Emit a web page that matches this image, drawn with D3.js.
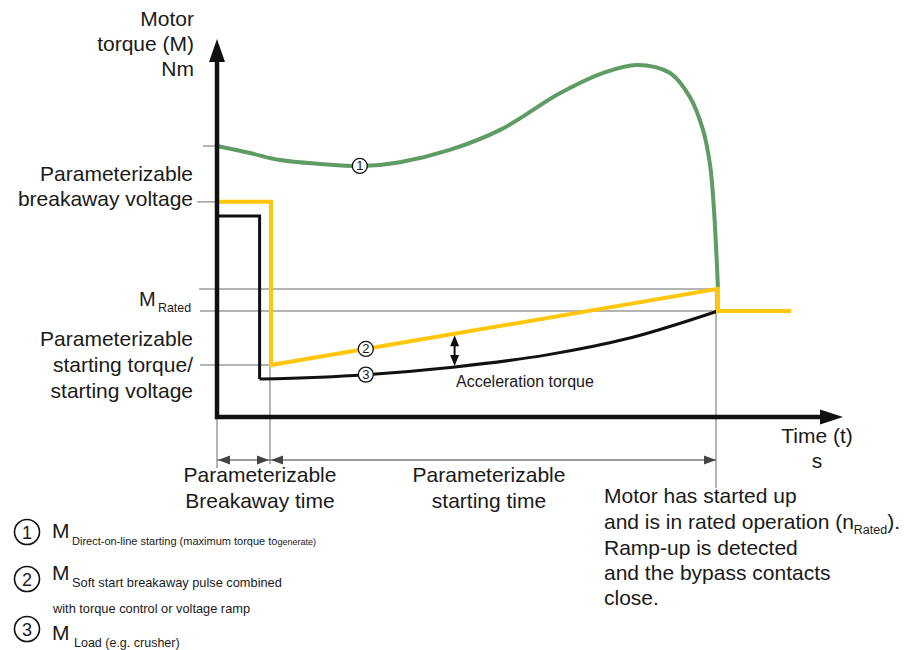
<!DOCTYPE html>
<html>
<head>
<meta charset="utf-8">
<script src="https://cdn.jsdelivr.net/npm/d3@7"></script>
<style>
  body { margin: 0; background: #fff; }
  svg { display: block; }
  text { font-family: "Liberation Sans", Arial, sans-serif; fill: #1a1a1a; }
</style>
</head>
<body>
<svg id="chart" width="909" height="650"></svg>
<script>
// ---- Time points (relative units) ----
const tLoadBreakaway = 7.1;   // load torque drops
const tBreakaway = 9;         // end of breakaway pulse
const tRampEnd = 83.5;        // motor reaches rated speed
const tRunEnd = 95.7;         // end of drawn rated operation

// ---- Torque levels (relative units) ----
const levelDolStart = 77.2;
const levelBreakaway = 61.3;
const levelRatedUpper = 36.5;
const levelRated = 30.2;
const levelStarting = 14.8;

// Curve 1: direct-on-line torque
const dolTime   = [0, 5.5, 10.5, 17.2, 24.2, 30.5, 38.8, 47.2, 57.2, 64.3, 70, 75.5, 78.8, 81, 82.2, 82.8, 83.2, 83.5];
const dolTorque = [77.2, 75.2, 73.2, 72.1, 71.5, 72.6, 76.1, 81.8, 92.3, 98.0, 100.3, 98.0, 91.2, 81.8, 71.5, 59.8, 47.6, 36.5];

// Curve 2: soft start (breakaway pulse, then torque ramp, then bypass)
const softTime   = [0, 9, 9, 83.5, 83.5, 95.7];
const softTorque = [61.3, 61.3, 14.8, 36.5, 30.2, 30.2];

// Curve 3: load torque (breakaway part, then rising load curve)
const loadPulseTime   = [0, 7.1, 7.1];
const loadPulseTorque = [57.3, 57.3, 10.8];
const loadTime   = [7.1, 24.3, 39.3, 55, 68.8, 83.5];
const loadTorque = [10.8, 12.0, 14.2, 17.7, 22.5, 30.2];

// Numbered markers on the curves
const markerLabels = ["1", "2", "3"];
const markerTimes  = [23.8, 24.8, 24.8];
const tAcceleration = 39.6;

const svg = d3.select("#chart");
const x = d3.scaleLinear().domain([0, 100]).range([217, 817]);
const y = d3.scaleLinear().domain([0, 100]).range([417, 66]);

const GREEN = "#5e9c63", YELLOW = "#ffc60b", GREY = "#9d9d9d", INK = "#111";

function valueAt(times, vals, t) {
  for (let i = times.length - 1; i > 0; i--) {
    if (t >= times[i - 1] && t <= times[i] && times[i] > times[i - 1]) {
      const f = (t - times[i - 1]) / (times[i] - times[i - 1]);
      return vals[i - 1] + f * (vals[i] - vals[i - 1]);
    }
  }
  return vals[0];
}
function arrowHead(g, tx, ty, angleDeg, len, half, color) {
  const a = angleDeg * Math.PI / 180;
  const bx = tx - Math.cos(a) * len, by = ty - Math.sin(a) * len;
  const nx = -Math.sin(a) * half, ny = Math.cos(a) * half;
  g.append("path")
    .attr("d", `M${tx},${ty}L${bx + nx},${by + ny}L${bx - nx},${by - ny}Z`)
    .attr("fill", color);
}
const zip = (a, b) => a.map((v, i) => [v, b[i]]);
const lineLin = d3.line().x(d => x(d[0])).y(d => y(d[1]));
const lineSmooth = d3.line().x(d => x(d[0])).y(d => y(d[1])).curve(d3.curveCatmullRom.alpha(0.5));
const lineLoad = d3.line().x(d => x(d[0])).y(d => y(d[1])).curve(d3.curveMonotoneX);

// ---- Grey reference lines ----
const ref = svg.append("g").attr("stroke", GREY).attr("stroke-width", 1.5).attr("fill", "none");
ref.append("line").attr("x1", 203).attr("x2", x(0)).attr("y1", y(levelDolStart)).attr("y2", y(levelDolStart));
ref.append("line").attr("x1", 197).attr("x2", x(0)).attr("y1", y(levelBreakaway)).attr("y2", y(levelBreakaway));
ref.append("line").attr("x1", 199).attr("x2", x(tRampEnd)).attr("y1", y(levelRatedUpper)).attr("y2", y(levelRatedUpper));
ref.append("line").attr("x1", 200).attr("x2", x(tRampEnd)).attr("y1", y(levelRated)).attr("y2", y(levelRated));
ref.append("line").attr("x1", 200).attr("x2", x(tBreakaway)).attr("y1", y(levelStarting)).attr("y2", y(levelStarting));
ref.append("line").attr("x1", x(0)).attr("x2", x(0)).attr("y1", y(0)).attr("y2", 468);
ref.append("line").attr("x1", x(tBreakaway) - 1).attr("x2", x(tBreakaway) - 1).attr("y1", y(levelStarting)).attr("y2", 464);
ref.append("line").attr("x1", x(tRampEnd) - 2).attr("x2", x(tRampEnd) - 2).attr("y1", y(levelRatedUpper)).attr("y2", 488);

// ---- Time span arrows ----
const spanY = 460;
const spans = svg.append("g");
spans.append("line").attr("x1", x(0)).attr("x2", x(tBreakaway)).attr("y1", spanY).attr("y2", spanY)
  .attr("stroke", "#7a7a7a").attr("stroke-width", 1.5);
spans.append("line").attr("x1", x(tBreakaway)).attr("x2", x(tRampEnd) - 2).attr("y1", spanY).attr("y2", spanY)
  .attr("stroke", "#7a7a7a").attr("stroke-width", 1.5);
arrowHead(spans, x(0) + 1, spanY, 180, 12, 4.5, "#444");
arrowHead(spans, x(tBreakaway) - 2, spanY, 0, 12, 4.5, "#444");
arrowHead(spans, x(tBreakaway), spanY, 180, 12, 4.5, "#444");
arrowHead(spans, x(tRampEnd) - 2, spanY, 0, 12, 4.5, "#444");

// ---- Curves ----
svg.append("path").datum(zip(dolTime, dolTorque)).attr("d", lineSmooth)
  .attr("fill", "none").attr("stroke", GREEN).attr("stroke-width", 4);
svg.append("path").datum(zip(loadPulseTime, loadPulseTorque)).attr("d", lineLin)
  .attr("fill", "none").attr("stroke", INK).attr("stroke-width", 3);
svg.append("path").datum(zip(loadTime, loadTorque)).attr("d", lineLoad)
  .attr("fill", "none").attr("stroke", INK).attr("stroke-width", 3);
svg.append("path").datum(zip(softTime, softTorque)).attr("d", lineLin)
  .attr("fill", "none").attr("stroke", YELLOW).attr("stroke-width", 4)
  .attr("stroke-linejoin", "miter");

// ---- Axes ----
const axes = svg.append("g");
axes.append("line").attr("x1", x(0)).attr("x2", x(0)).attr("y1", y(0) + 2).attr("y2", 60)
  .attr("stroke", INK).attr("stroke-width", 4.5);
arrowHead(axes, x(0), 39, -90, 23, 8, INK);
axes.append("line").attr("x1", x(0) - 2).attr("x2", 822).attr("y1", y(0)).attr("y2", y(0))
  .attr("stroke", INK).attr("stroke-width", 4.5);
arrowHead(axes, 843, y(0), 0, 23, 7.5, INK);

// ---- Markers ----
const seriesForMarker = [[dolTime, dolTorque], [softTime, softTorque], [loadTime, loadTorque]];
markerLabels.forEach((lab, i) => {
  const [tt, vv] = seriesForMarker[i];
  const cx = x(markerTimes[i]), cy = y(valueAt(tt, vv, markerTimes[i]));
  svg.append("circle").attr("cx", cx).attr("cy", cy).attr("r", 7.5)
    .attr("fill", "#fff").attr("stroke", INK).attr("stroke-width", 1.3);
  svg.append("text").attr("x", cx).attr("y", cy + 4.5).attr("text-anchor", "middle")
    .attr("font-size", 13).text(lab);
});

// ---- Acceleration torque indicator ----
const accTop = y(valueAt(softTime, softTorque, tAcceleration)) + 1.5;
const accBot = y(valueAt(loadTime, loadTorque, tAcceleration)) - 1;
svg.append("line").attr("x1", x(tAcceleration)).attr("x2", x(tAcceleration))
  .attr("y1", accTop + 6).attr("y2", accBot - 6).attr("stroke", INK).attr("stroke-width", 2);
arrowHead(svg, x(tAcceleration), accTop, -90, 11, 4.5, INK);
arrowHead(svg, x(tAcceleration), accBot, 90, 11, 4.5, INK);
svg.append("text").attr("x", 456).attr("y", 387).attr("font-size", 16).text("Acceleration torque");

// ---- Axis titles & level labels ----
const FS = 21;
function lines(xp, yp, arr, anchor, fs, step) {
  const t = svg.append("text").attr("text-anchor", anchor).attr("font-size", fs);
  arr.forEach((s, i) => t.append("tspan").attr("x", xp).attr("y", yp + i * step).text(s));
  return t;
}
lines(194, 26, ["Motor", "torque (M)", "Nm"], "end", FS, 25);
lines(193, y(levelBreakaway) - 21, ["Parameterizable", "breakaway voltage"], "end", FS, 25);
lines(193, y(levelStarting) - 19, ["Parameterizable", "starting torque/", "starting voltage"], "end", FS, 26);
svg.append("text").attr("x", 139).attr("y", 306).attr("font-size", 20).text("M");
svg.append("text").attr("x", 158).attr("y", 312).attr("font-size", 12.4).text("Rated");

lines(817, 443, ["Time (t)", "s"], "middle", FS, 25);
lines(260, 482, ["Parameterizable", "Breakaway time"], "middle", FS, 26);
lines(489, 482, ["Parameterizable", "starting time"], "middle", FS, 26);

// ---- Note on the right ----
const note = svg.append("text").attr("font-size", FS);
note.append("tspan").attr("x", 604).attr("y", 503).text("Motor has started up");
const l2 = note.append("tspan").attr("x", 604).attr("y", 529);
l2.append("tspan").text("and is in rated operation (n");
l2.append("tspan").attr("font-size", 12.5).attr("dy", 5).text("Rated");
l2.append("tspan").attr("dy", -5).text(").");
note.append("tspan").attr("x", 604).attr("y", 555).text("Ramp-up is detected");
note.append("tspan").attr("x", 604).attr("y", 580).text("and the bypass contacts");
note.append("tspan").attr("x", 604).attr("y", 605).text("close.");

// ---- Legend ----
const legendNums = ["1", "2", "3"];
const legendY = [532, 579, 629];
const legendMBase = [538, 580, 640];
legendNums.forEach((n, i) => {
  svg.append("circle").attr("cx", 27).attr("cy", legendY[i]).attr("r", 12.5)
    .attr("fill", "#fff").attr("stroke", INK).attr("stroke-width", 1.6);
  svg.append("text").attr("x", 27).attr("y", legendY[i] + 6.5).attr("text-anchor", "middle")
    .attr("font-size", 18).text(n);
  svg.append("text").attr("x", 52).attr("y", legendMBase[i]).attr("font-size", 21).text("M");
});
const s1 = svg.append("text").attr("x", 72).attr("y", 545).attr("font-size", 11);
s1.append("tspan").text("Direct-on-line starting (maximum torque to");
s1.append("tspan").attr("font-size", 9).text("generate)");
svg.append("text").attr("x", 72).attr("y", 587).attr("font-size", 12.8).text("Soft start breakaway pulse combined");
svg.append("text").attr("x", 53).attr("y", 613).attr("font-size", 12.8).text("with torque control or voltage ramp");
svg.append("text").attr("x", 74).attr("y", 647).attr("font-size", 12.5).text("Load (e.g. crusher)");
</script>
</body>
</html>
